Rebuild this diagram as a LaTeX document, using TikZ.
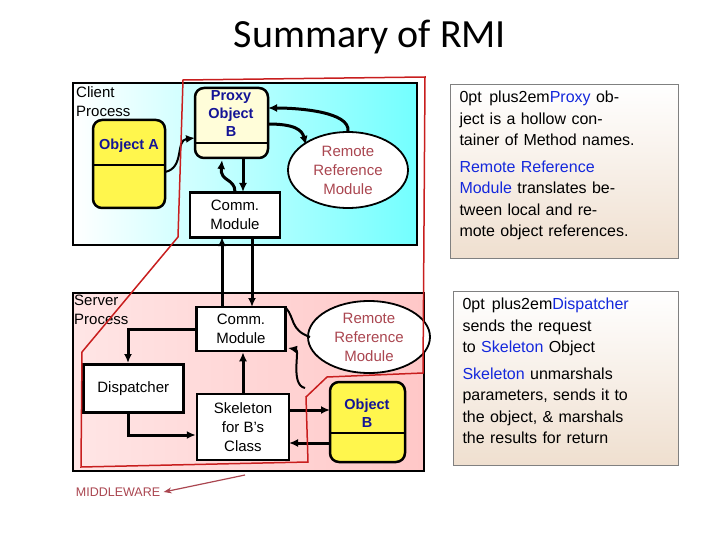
\documentclass[tikz,border=0pt]{standalone}
\usepackage{fontspec}
\setmainfont{Liberation Sans}
\newfontfamily\titlefont{Carlito}
\usetikzlibrary{shapes.geometric,arrows.meta}
\definecolor{rrmred}{RGB}{170,70,80}
\definecolor{hlblue}{RGB}{20,40,220}
\definecolor{objblue}{RGB}{20,20,150}
\definecolor{mwred}{RGB}{200,30,30}
\tikzset{
  arrow/.style={-{Latex[length=9pt,width=8pt]}, line width=3pt},
  box/.style={draw, line width=2.5pt, fill=white, align=center, font=\fontsize{15}{19}\selectfont},
  rrm/.style={ellipse, draw, line width=1.8pt, fill=white, align=center, text=rrmred, font=\fontsize{15}{19}\selectfont, inner sep=0pt},
  obj/.style={draw, line width=2.5pt, rounded corners=9pt, fill=yellow!70!white},
  objtext/.style={text=objblue, align=center, font=\bfseries\fontsize{14.5}{18}\selectfont},
  note/.style={align=center, text width=205pt, font=\fontsize{16}{21.5}\selectfont\hyphenpenalty=10000, inner sep=5pt}
}
\begin{document}
\begin{tikzpicture}[x=1pt, y=-1pt]
  \useasboundingbox (0,0) rectangle (720,540);
  \node (title) at (370,37) {\titlefont\fontsize{40}{44}\selectfont Summary of RMI};

  % process areas
  \shade[left color=white, right color=cyan!55] (73,83) rectangle (417,245);
  \draw[line width=1.5pt] (73,83) rectangle (417,245);
  \shade[left color=red!10, right color=red!22] (73,293) rectangle (424,471);
  \draw[line width=1.5pt] (73,293) rectangle (424,471);
  \node[anchor=north west, align=left, inner sep=1pt, font=\fontsize{15}{19}\selectfont] (client) at (75,85) {Client\\Process};
  \node[anchor=north west, align=left, inner sep=1pt, font=\fontsize{15}{19}\selectfont] (server) at (73,294) {Server\\Process};

  % client side
  \draw[obj] (93,120) rectangle (165,208);
  \draw[line width=2pt] (93,165) -- (165,165);
  \node[objtext] (objA) at (129,146) {Object A};
  \draw[obj, fill=yellow!15] (195,88) rectangle (268,158);
  \draw[line width=2pt] (195,143) -- (268,143);
  \node[objtext] (proxy) at (231,114) {Proxy\\Object\\B};
  \node[rrm, minimum width=120pt, minimum height=76pt] (rrmC) at (348,170) {Remote\\Reference\\Module};
  \node[box, minimum width=90pt, minimum height=45pt] (commC) at (235,215) {Comm.\\Module};

  % server side
  \node[box, minimum width=89pt, minimum height=44pt] (commS) at (241,329) {Comm.\\Module};
  \node[rrm, minimum width=122pt, minimum height=72pt] (rrmS) at (369,337) {Remote\\Reference\\Module};
  \node[box, minimum width=100pt, minimum height=48pt, anchor=north west] (disp) at (82,363) {Dispatcher};
  \node[box, minimum width=92pt, minimum height=66pt] (skel) at (243,427) {Skeleton\\for B's\\Class};
  \draw[obj] (330,382) rectangle (405,462);
  \draw[line width=2pt] (330,433) -- (405,433);
  \node[objtext] (objB) at (367,413) {Object\\B};

  % connectors
  \draw[arrow, line width=2pt] (165,172) .. controls (185,168) and (175,140) .. (195,138);
  \draw[arrow] (rrmC.north) .. controls (350,112) and (300,108) .. (268,108);
  \draw[arrow] (268,124) .. controls (295,124) and (302,130) .. (306,145);
  \draw[arrow] (235,192) .. controls (235,178) and (220,182) .. (222,160);
  \draw[arrow] (243,158) -- (243,192);
  \draw[arrow] (222,307) -- (222,237);
  \draw[arrow] (252,237) -- (252,307);
  \draw[line width=3pt] (commS.west) -| (128,340);
  \draw[arrow] (128,340) -- (disp.north -| 128,0);
  \draw[line width=2pt] (286,308) .. controls (295,318) and (290,330) .. (310,337);
  \draw[arrow, line width=2pt] (305,388) .. controls (290,385) and (300,350) .. (288,348);
  \draw[arrow] (skel.north) -- (commS.south -| skel.north);
  \draw[arrow] (128,411) |- (skel.west |- 0,435);
  \draw[arrow] (289,410) -- (330,410);
  \draw[arrow] (330,443) -- (289,443);

  % middleware boundary
  \draw[mwred, line width=1.5pt] (183,80) -- (425,77) -- (423,373) -- (327,377) -- (306,397) -- (308,462) -- (81,467) -- (82,352) -- (178,237) -- cycle;
  \node[text=rrmred, font=\fontsize{12.5}{15}\selectfont] (mw) at (118,492) {MIDDLEWARE};
  \draw[rrmred, line width=1.2pt, -{Stealth[length=8pt]}] (245,475) -- (mw.east);

  % notes
  \shade[top color=white, bottom color=brown!25] (450,84) rectangle (678,258);
  \draw[gray] (450,84) rectangle (678,258);
  \node[note, anchor=north] (note1) at (562,86) {\textcolor{hlblue}{Proxy} object is a hollow container of Method names.\\[5pt]\textcolor{hlblue}{Remote Reference Module} translates between local and remote object references.};
  \shade[top color=white, bottom color=brown!25] (453,291) rectangle (678,465);
  \draw[gray] (453,291) rectangle (678,465);
  \node[note, anchor=north] (note2) at (565,293) {\textcolor{hlblue}{Dispatcher} sends the request to \textcolor{hlblue}{Skeleton} Object\\[5pt]\textcolor{hlblue}{Skeleton} unmarshals parameters, sends it to the object, \& marshals the results for return};
\end{tikzpicture}
\end{document}
